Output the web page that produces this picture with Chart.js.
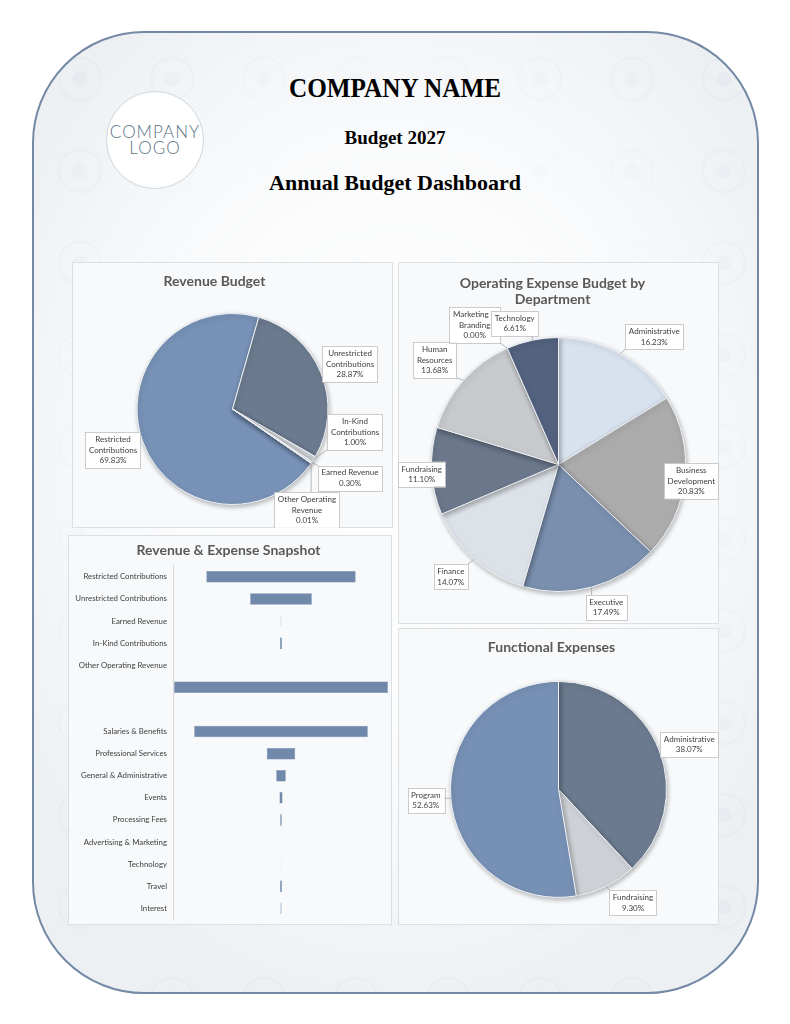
<!DOCTYPE html>
<html>
<head>
<meta charset="utf-8">
<script src="https://cdn.jsdelivr.net/npm/chart.js@4.4.1/dist/chart.umd.min.js"></script>
<style>
body { margin:0; width:790px; height:1024px; background:#fff; position:relative; overflow:hidden; font-family:Lato, sans-serif; }
#frame { position:absolute; left:32px; top:31px; width:723px; height:959px; border:2px solid #7489a6; border-radius:112px;
  background:
    radial-gradient(ellipse 62% 58% at 50% 45%, rgba(255,255,255,0.97) 0%, rgba(255,255,255,0.75) 55%, rgba(255,255,255,0) 100%),
    radial-gradient(circle at 50% 50%, rgba(190,200,212,0.13) 0 7px, transparent 8px 19px, rgba(190,200,212,0.1) 20px 22px, transparent 23px),
    #edf0f3;
  background-size: auto, 92px 92px, auto; }
.head { position:absolute; left:0; width:790px; text-align:center; font-family:"Liberation Serif", serif; font-weight:bold; color:#000; }
#logo { position:absolute; left:106px; top:91px; width:96px; height:96px; border-radius:50%; background:#fff; border:1px solid #cdd6dc;
  text-align:center; color:#5b7485; font-family:Lato, sans-serif; font-weight:300; font-size:17px; line-height:16px; letter-spacing:1px; }
#logo div { padding-top:32px; }
.panel { position:absolute; background:#f7f9fb; border:1px solid #dcdfe3; box-sizing:border-box; }
canvas { position:absolute; }
</style>
</head>
<body>
<div id="frame"></div>
<div class="head" style="top:72px;font-size:28px;transform:scaleX(0.9)">COMPANY NAME</div>
<div class="head" style="top:127px;font-size:19px">Budget 2027</div>
<div class="head" style="top:170px;font-size:22px">Annual Budget Dashboard</div>
<div id="logo"><div>COMPANY<br>LOGO</div></div>

<div class="panel" style="left:72px;top:262px;width:321px;height:266px"></div>
<div class="panel" style="left:398px;top:262px;width:321px;height:362px"></div>
<div class="panel" style="left:68px;top:535px;width:324px;height:390px"></div>
<div class="panel" style="left:398px;top:628px;width:321px;height:297px"></div>

<canvas id="rev" width="321" height="266" style="left:72px;top:262px"></canvas>
<canvas id="opex" width="321" height="362" style="left:398px;top:262px"></canvas>
<canvas id="snap" width="324" height="390" style="left:68px;top:535px"></canvas>
<canvas id="func" width="321" height="297" style="left:398px;top:628px"></canvas>

<script>
// revenue budget (% of total revenue)
const revLabels = ['Restricted Contributions', 'Unrestricted Contributions', 'In-Kind Contributions', 'Earned Revenue', 'Other Operating Revenue'];
const revShares = [69.83, 28.87, 1.00, 0.30, 0.01];

// operating expense by department (%)
const deptLabels = ['Administrative', 'Business Development', 'Executive', 'Finance', 'Fundraising', 'Human Resources', 'Marketing & Branding', 'Technology'];
const deptShares = [16.23, 20.83, 17.49, 14.07, 11.10, 13.68, 0.00, 6.61];

// functional expenses (%)
const funcLabels = ['Administrative', 'Fundraising', 'Program'];
const funcShares = [38.07, 9.30, 52.63];

// snapshot rows, sized as % of total revenue (blank rows = total bar and spacer)
const snapLabels = ['Restricted Contributions', 'Unrestricted Contributions', 'Earned Revenue', 'In-Kind Contributions', 'Other Operating Revenue',
  '', '', 'Salaries & Benefits', 'Professional Services', 'General & Administrative', 'Events', 'Processing Fees',
  'Advertising & Marketing', 'Technology', 'Travel', 'Interest'];
const snapValues = [69.83, 28.87, 0.30, 1.00, 0.01, 100, null, 81.2, 13.3, 4.5, 1.4, 0.8, 0, 0.15, 0.9, 0.5];

Chart.defaults.font.family = "Lato, 'Open Sans', sans-serif";
Chart.defaults.color = '#404040';

const pieShadow = {
  id: 'pieShadow',
  beforeDatasetsDraw(chart) {
    const c = chart.ctx;
    c.save();
    c.shadowColor = 'rgba(0,0,0,0.28)';
    c.shadowBlur = 5;
    c.shadowOffsetX = 1;
    c.shadowOffsetY = 2;
  },
  afterDatasetsDraw(chart) { chart.ctx.restore(); }
};

// titles in the sheet are not quite centred on their panels
const titleShift = {
  id: 'titleShift',
  afterLayout(chart, args, opts) {
    const t = chart.titleBlock;
    if (t && opts.dx) { t.left += opts.dx; t.right += opts.dx; }
  }
};

// boxed data labels with leader lines, like the spreadsheet callouts
const callouts = {
  id: 'callouts',
  afterDraw(chart, args, opts) {
    if (!opts.offsets) return;
    const ctx = chart.ctx;
    const arcs = chart.getDatasetMeta(0).data;
    const values = chart.data.datasets[0].data;
    ctx.save();
    ctx.font = "8px Lato, 'Open Sans', sans-serif";
    const boxes = arcs.map((arc, i) => {
      const words = chart.data.labels[i].split(' ');
      const lines = [];
      let cur = '';
      words.forEach(w => {
        const t = cur ? cur + ' ' + w : w;
        if (cur && ctx.measureText(t).width > opts.wrap) { lines.push(cur); cur = w; } else cur = t;
      });
      lines.push(cur);
      lines.push(values[i].toFixed(2) + '%');
      const w = Math.max(...lines.map(l => ctx.measureText(l).width)) + 7;
      const h = lines.length * 10.5 + 4;
      const cx = arc.x + opts.offsets[i][0], cy = arc.y + opts.offsets[i][1];
      const mid = (arc.startAngle + arc.endAngle) / 2;
      const px = arc.x + Math.cos(mid) * arc.outerRadius;
      const py = arc.y + Math.sin(mid) * arc.outerRadius;
      return {lines, x0: cx - w / 2, y0: cy - h / 2, w, h, cx, px, py};
    });
    ctx.strokeStyle = '#a6a6a6';
    ctx.lineWidth = 0.8;
    boxes.forEach(b => {
      const qx = Math.min(Math.max(b.px, b.x0), b.x0 + b.w);
      const qy = Math.min(Math.max(b.py, b.y0), b.y0 + b.h);
      if (Math.hypot(qx - b.px, qy - b.py) > 3) {
        ctx.beginPath(); ctx.moveTo(b.px, b.py); ctx.lineTo(qx, qy); ctx.stroke();
      }
    });
    ctx.textAlign = 'center';
    ctx.textBaseline = 'middle';
    boxes.forEach(b => {
      ctx.fillStyle = '#ffffff';
      ctx.fillRect(b.x0, b.y0, b.w, b.h);
      ctx.strokeStyle = '#bfbfbf';
      ctx.strokeRect(Math.round(b.x0) + 0.5, Math.round(b.y0) + 0.5, Math.round(b.w), Math.round(b.h));
      ctx.fillStyle = '#404040';
      b.lines.forEach((l, k) => ctx.fillText(l, b.cx, b.y0 + 2 + 5.25 + k * 10.5));
    });
    ctx.restore();
  }
};

function titleOpts(text, top, bottom) {
  return {display: true, text: text, color: '#595959', font: {size: 14, weight: 'bold', lineHeight: 1.2}, padding: {top: top, bottom: bottom}};
}

function pieChart(id, labels, data, colors, rotation, pad, title, titleDx, offsets, wrap) {
  return new Chart(document.getElementById(id), {
    type: 'pie',
    data: {labels: labels, datasets: [{data: data, backgroundColor: colors, borderColor: '#eef1f5', borderWidth: 1,
      hoverBorderWidth: 1, hoverOffset: 0}]},
    options: {
      responsive: false, animation: false, rotation: rotation,
      layout: {padding: pad},
      plugins: {legend: {display: false}, tooltip: {enabled: false}, title: title,
        titleShift: {dx: titleDx}, callouts: {offsets: offsets, wrap: wrap}}
    },
    plugins: [pieShadow, titleShift, callouts]
  });
}

pieChart('rev', revLabels, revShares, ['#7792b6', '#6b7a8e', '#d2d5d9', '#e9ecef', '#f4f5f7'], 124.6,
  {left: 64, right: 64, top: 0, bottom: 23}, titleOpts('Revenue Budget', 11, 23.2), -18,
  [[-119.5, 41], [117.5, -45], [122.5, 23], [117.5, 69], [74.5, 101]], 62);

pieChart('opex', deptLabels, deptShares, ['#d8e1ee', '#ababab', '#7a8fae', '#dde2e9', '#6b788c', '#c8c9cc', '#b0b8c6', '#53627f'], 0,
  {left: 33, right: 33, top: 0, bottom: 32}, titleOpts(['Operating Expense Budget by', 'Department'], 12.6, 28.8), -6,
  [[95.8, -127.8], [132.8, 16.5], [47.8, 143], [-107.7, 112.2], [-136.7, 9.7], [-123.8, -104.5], [-83.8, -139.5], [-43.8, -141.2]], 54);

pieChart('func', funcLabels, funcShares, ['#6b7a8e', '#cdd0d4', '#7791b5'], 0,
  {left: 52, right: 52, top: 0, bottom: 27}, titleOpts('Functional Expenses', 10.6, 25.4), -7,
  [[130.8, -45], [74.5, 113.4], [-132.7, 10.9]], 90);

new Chart(document.getElementById('snap'), {
  type: 'bar',
  data: {
    labels: snapLabels,
    datasets: [{
      data: snapValues.map(v => v == null ? null : [-v / 2, v / 2]),
      backgroundColor: '#7088aa', borderColor: '#7088aa', borderWidth: 0.5, borderSkipped: false,
      barPercentage: 0.52, categoryPercentage: 1
    }]
  },
  options: {
    indexAxis: 'y', responsive: false, animation: false,
    layout: {padding: {left: 0, right: 3, top: 0, bottom: 5.6}},
    plugins: {legend: {display: false}, tooltip: {enabled: false}, title: titleOpts('Revenue & Expense Snapshot', 7, 7)},
    scales: {
      x: {display: false, min: -50.5, max: 50.5},
      y: {
        afterFit(s) { s.width = 105; s.paddingTop = 0; s.paddingBottom = 0; },
        grid: {display: false, drawTicks: false},
        border: {display: true, color: '#d9d9d9'},
        ticks: {padding: 6, color: '#404040', font: {size: 7.8}, autoSkip: false}
      }
    }
  }
});
</script>
</body>
</html>
